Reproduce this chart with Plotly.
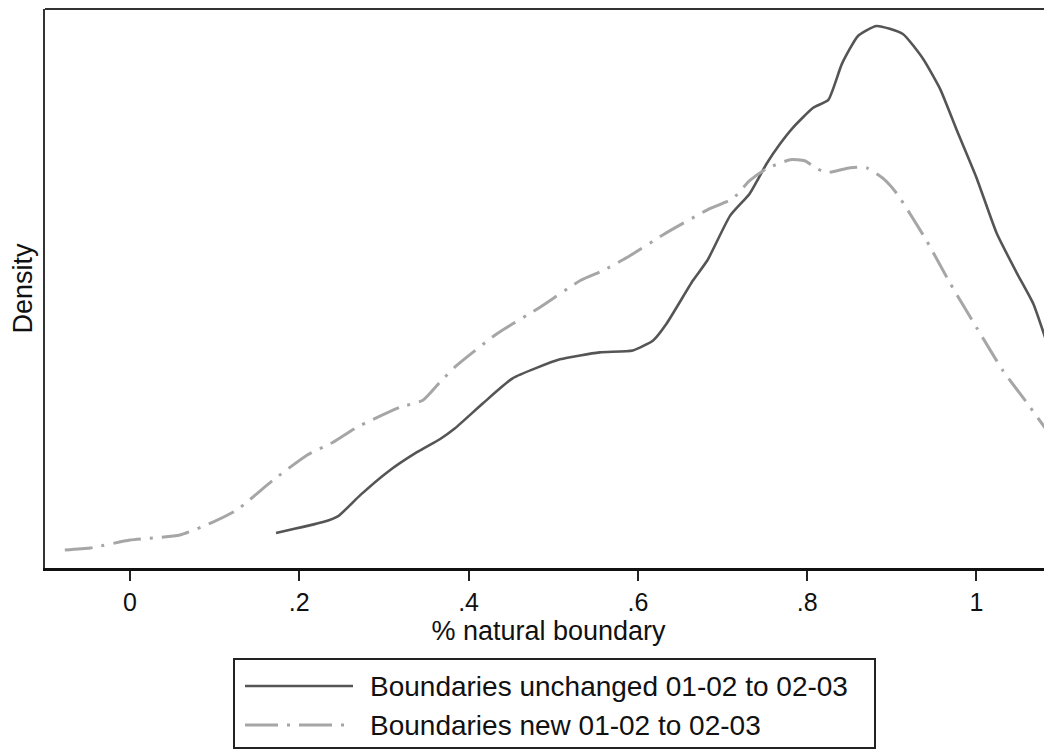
import plotly.graph_objects as go

# Kernel density estimates
x_unchanged = [0.1725, 0.228, 0.246, 0.272, 0.304, 0.339, 0.366, 0.384, 0.417, 0.452,
               0.508, 0.555, 0.594, 0.618, 0.634, 0.665, 0.682, 0.709, 0.732, 0.752,
               0.768, 0.783, 0.807, 0.825, 0.841, 0.860, 0.882, 0.913, 0.937, 0.957,
               0.977, 1.000, 1.024, 1.048, 1.067, 1.083]
d_unchanged = [0.175, 0.23, 0.26, 0.365, 0.48, 0.58, 0.645, 0.70, 0.825, 0.95,
               1.045, 1.08, 1.09, 1.14, 1.225, 1.44, 1.54, 1.765, 1.875, 2.025,
               2.125, 2.205, 2.305, 2.345, 2.525, 2.665, 2.715, 2.675, 2.55, 2.40,
               2.19, 1.955, 1.675, 1.475, 1.325, 1.13]

x_new = [-0.077, -0.047, 0.0, 0.059, 0.098, 0.126, 0.169, 0.209, 0.240, 0.268,
         0.319, 0.346, 0.366, 0.386, 0.434, 0.484, 0.532, 0.559, 0.587, 0.634,
         0.685, 0.712, 0.732, 0.752, 0.780, 0.797, 0.812, 0.823, 0.851, 0.870,
         0.890, 0.906, 0.941, 0.969, 1.000, 1.031, 1.060, 1.083]
d_new = [0.09, 0.10, 0.14, 0.165, 0.23, 0.29, 0.44, 0.565, 0.63, 0.705,
         0.805, 0.84, 0.93, 1.015, 1.175, 1.305, 1.44, 1.49, 1.555, 1.68,
         1.80, 1.85, 1.94, 2.00, 2.045, 2.04, 2.00, 1.98, 2.005, 2.005,
         1.95, 1.875, 1.64, 1.425, 1.205, 0.99, 0.825, 0.69]

tick_vals = [0, 0.2, 0.4, 0.6, 0.8, 1]
tick_text = ["0", ".2", ".4", ".6", ".8", "1"]

series_names = ["Boundaries unchanged 01-02 to 02-03", "Boundaries new 01-02 to 02-03"]

FONT = "Liberation Sans, Arial, sans-serif"
DARK = "#555555"
LIGHT = "#a6a6a6"
DASHDOT = "28px,9px,3px,9px"

fig = go.Figure()
fig.add_trace(go.Scatter(x=x_unchanged, y=d_unchanged, mode="lines",
                         line=dict(color=DARK, width=2.6, shape="spline", smoothing=0.5),
                         name=series_names[0], showlegend=False))
fig.add_trace(go.Scatter(x=x_new, y=d_new, mode="lines",
                         line=dict(color=LIGHT, width=3, dash=DASHDOT, shape="spline", smoothing=0.5),
                         name=series_names[1], showlegend=False))

# page has an 8px body margin: figure starts at page (8, 8)
OFF = 8
W, H = 1044, 741
# plot area in page pixels: x 45..1052, y 9..568
L = 45 - OFF
T = 9 - OFF
B = H - (568 - OFF)
R = 0
pw, ph = W - L - R, H - T - B

def px_x(p):
    return (p - OFF - L) / pw

def px_y(p):
    return (H - B - (p - OFF)) / ph

shapes = []
# top frame line
shapes.append(dict(type="line", xref="paper", yref="paper", x0=0, x1=1, y0=1, y1=1,
                   line=dict(color="#333333", width=2)))
# custom legend box
shapes.append(dict(type="rect", xref="paper", yref="paper",
                   x0=px_x(234), x1=px_x(875), y0=px_y(748), y1=px_y(659),
                   line=dict(color="#222222", width=2), fillcolor="white", layer="below"))
# legend line samples
shapes.append(dict(type="line", xref="paper", yref="paper",
                   x0=px_x(245), x1=px_x(353), y0=px_y(686), y1=px_y(686),
                   line=dict(color=DARK, width=2.6)))
shapes.append(dict(type="line", xref="paper", yref="paper",
                   x0=px_x(245), x1=px_x(353), y0=px_y(725), y1=px_y(725),
                   line=dict(color=LIGHT, width=3, dash="33px,9px,3px,9px")))

annotations = []
for name, yy in zip(series_names, [686, 725]):
    annotations.append(dict(text=name, xref="paper", yref="paper", x=px_x(368), y=px_y(yy),
                            xanchor="left", yanchor="middle", showarrow=False,
                            font=dict(family=FONT, size=28, color="#111111")))

fig.update_layout(
    width=W, height=H,
    margin=dict(l=L, r=R, t=T, b=B, pad=0),
    paper_bgcolor="white", plot_bgcolor="white",
    font=dict(family=FONT, color="#111111"),
    shapes=shapes, annotations=annotations,
    showlegend=False,
    xaxis=dict(range=[-0.1004, 1.0892], tickvals=tick_vals, ticktext=tick_text,
               ticks="outside", ticklen=10, tickwidth=2, tickcolor="#222222",
               showline=True, linecolor="#111111", linewidth=3,
               showgrid=False, zeroline=False,
               tickfont=dict(family=FONT, size=25, color="#111111"),
               title=dict(text="% natural boundary", standoff=0,
                          font=dict(family=FONT, size=27, color="#111111"))),
    yaxis=dict(range=[0, 2.8], showticklabels=False, ticks="",
               showline=True, linecolor="#333333", linewidth=2,
               showgrid=False, zeroline=False,
               title=dict(text="Density", standoff=3,
                          font=dict(family=FONT, size=27, color="#111111"))),
)

fig.write_html("out.html")
